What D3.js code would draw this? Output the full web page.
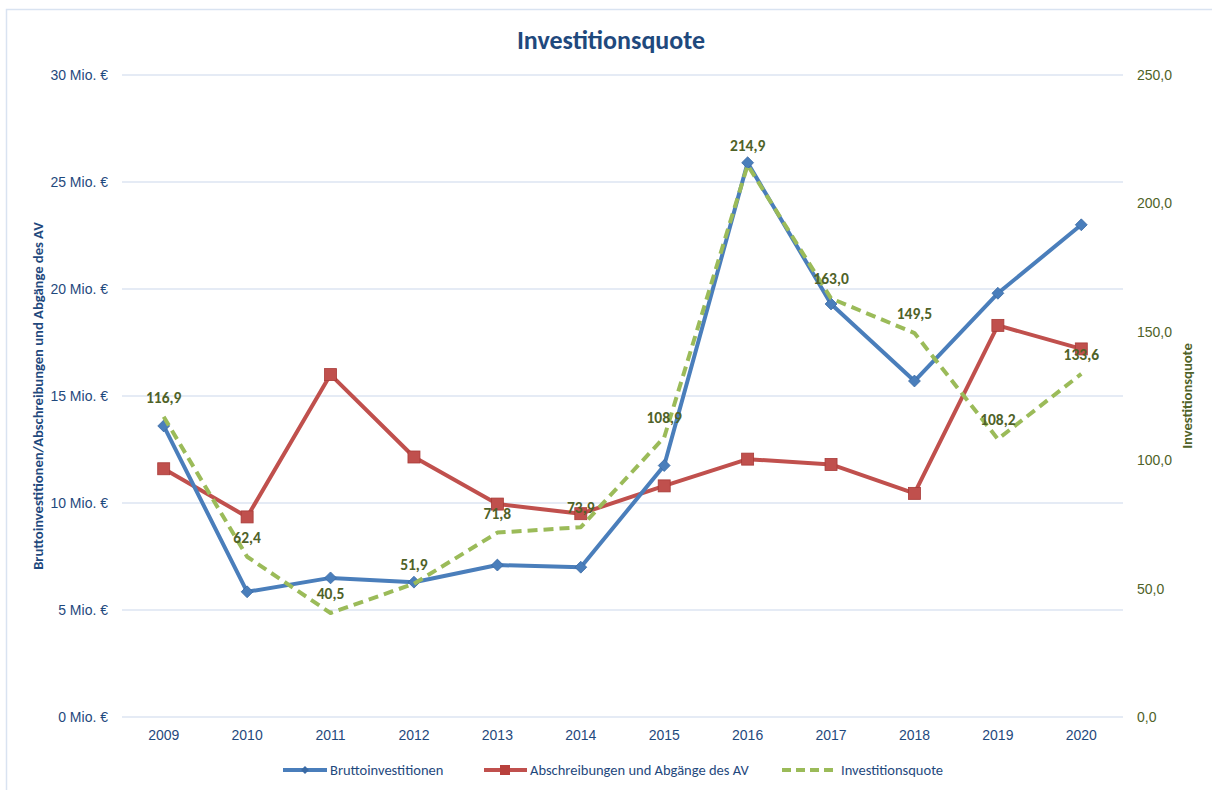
<!DOCTYPE html>
<html>
<head>
<meta charset="utf-8">
<script src="https://cdn.jsdelivr.net/npm/d3@7"></script>
<style>
  body { margin: 0; background: #fff; }
  svg { font-family: Carlito, Lato, "Open Sans", sans-serif; }
</style>
</head>
<body>
<svg id="chart" width="1212" height="790"></svg>
<script>
const years = ['2009', '2010', '2011', '2012', '2013', '2014', '2015', '2016', '2017', '2018', '2019', '2020']
const brutto = [13.6, 5.85, 6.5, 6.3, 7.1, 7.0, 11.75, 25.9, 19.3, 15.7, 19.8, 23.0]
const abschreibungen = [11.6, 9.35, 16.0, 12.15, 9.95, 9.5, 10.8, 12.05, 11.8, 10.45, 18.3, 17.2]
const quote = [116.9, 62.4, 40.5, 51.9, 71.8, 73.9, 108.9, 214.9, 163.0, 149.5, 108.2, 133.6]
const leftTicks = [0, 5, 10, 15, 20, 25, 30]
const rightTicks = [0, 50, 100, 150, 200, 250]

const svg = d3.select('#chart')
const margin = { left: 122, right: 89, top: 75, bottom: 73 }
const W = 1212, H = 790

const blue = '#4a7ebb', red = '#c0504d', green = '#9bbb59'
const darkBlue = '#1f497d', olive = '#4f6228'

// chart frame
svg.append('rect')
  .attr('x', 6.5).attr('y', 9.5)
  .attr('width', 1220).attr('height', 800)
  .attr('fill', 'none').attr('stroke', '#d9e3f1').attr('stroke-width', 1.5)

let xScale = d3.scaleBand().domain(years).range([margin.left, W - margin.right])
let yLeft = d3.scaleLinear().domain([0, 30]).range([H - margin.bottom, margin.top])
let yRight = d3.scaleLinear().domain([0, 250]).range([H - margin.bottom, margin.top])
const cx = d => xScale(d) + xScale.bandwidth() / 2

// gridlines
svg.append('g')
  .selectAll('line').data(leftTicks).enter()
  .append('line')
  .attr('x1', margin.left).attr('x2', W - margin.right)
  .attr('y1', d => yLeft(d)).attr('y2', d => yLeft(d))
  .attr('stroke', '#dce5f2').attr('stroke-width', 1.3)

// left axis
let leftAxis = d3.axisLeft(yLeft).tickValues(leftTicks)
  .tickFormat(d => d + ' Mio. €').tickSize(0).tickPadding(14)
svg.append('g').attr('transform', `translate(${margin.left}, 0)`).call(leftAxis)
  .call(g => g.select('.domain').remove())
  .selectAll('text').style('font-size', '14px').attr('fill', darkBlue)

// right axis
let rightAxis = d3.axisRight(yRight).tickValues(rightTicks)
  .tickFormat(d => d3.format('.1f')(d).replace('.', ',')).tickSize(0).tickPadding(14)
svg.append('g').attr('transform', `translate(${W - margin.right}, 0)`).call(rightAxis)
  .call(g => g.select('.domain').remove())
  .selectAll('text').style('font-size', '14px').attr('fill', olive)

// x axis
let xAxis = d3.axisBottom(xScale).tickSize(0).tickPadding(13)
svg.append('g').attr('transform', `translate(0, ${H - margin.bottom})`).call(xAxis)
  .call(g => g.select('.domain').remove())
  .selectAll('text').style('font-size', '14px').attr('fill', darkBlue)

// title
svg.append('text').attr('x', 611).attr('y', 49).attr('text-anchor', 'middle')
  .style('font-size', '26px').style('font-weight', 'bold').attr('fill', darkBlue)
  .text('Investitionsquote')

// axis titles
svg.append('text').attr('transform', `translate(43, ${(yLeft(0) + yLeft(30)) / 2}) rotate(-90)`)
  .attr('text-anchor', 'middle').style('font-size', '14.6px').style('font-weight', 'bold')
  .attr('fill', darkBlue).text('Bruttoinvestitionen/Abschreibungen und Abgänge des AV')
svg.append('text').attr('transform', `translate(1192, ${(yLeft(0) + yLeft(30)) / 2}) rotate(-90)`)
  .attr('text-anchor', 'middle').style('font-size', '14.6px').style('font-weight', 'bold')
  .attr('fill', olive).text('Investitionsquote')

// lines
let lineLeft = d3.line().x((d, i) => cx(years[i])).y(d => yLeft(d))
let lineRight = d3.line().x((d, i) => cx(years[i])).y(d => yRight(d))

svg.append('path').datum(abschreibungen).attr('d', lineLeft)
  .attr('fill', 'none').attr('stroke', red).attr('stroke-width', 4).attr('stroke-linejoin', 'round')
svg.append('path').datum(brutto).attr('d', lineLeft)
  .attr('fill', 'none').attr('stroke', blue).attr('stroke-width', 4).attr('stroke-linejoin', 'round')

// markers
svg.append('g').selectAll('rect').data(abschreibungen).enter()
  .append('rect')
  .attr('x', (d, i) => cx(years[i]) - 6).attr('y', d => yLeft(d) - 6)
  .attr('width', 12).attr('height', 12)
  .attr('fill', red).attr('stroke', '#a83a37').attr('stroke-width', 0.8)
svg.append('g').selectAll('path').data(brutto).enter()
  .append('path')
  .attr('d', d3.symbol().type(d3.symbolDiamond2).size(90))
  .attr('transform', (d, i) => `translate(${cx(years[i])}, ${yLeft(d)})`)
  .attr('fill', blue).attr('stroke', '#3a6aa5').attr('stroke-width', 0.8)

svg.append('path').datum(quote).attr('d', lineRight)
  .attr('fill', 'none').attr('stroke', green).attr('stroke-width', 4)
  .attr('stroke-dasharray', '10,6').attr('stroke-linejoin', 'round')

// data labels
svg.append('g').selectAll('text').data(quote).enter()
  .append('text')
  .attr('x', (d, i) => cx(years[i])).attr('y', d => yRight(d) - 14)
  .attr('text-anchor', 'middle')
  .style('font-size', '15.5px').style('font-weight', 'bold').attr('fill', olive)
  .text(d => d3.format('.1f')(d).replace('.', ','))

// legend
const legendY = 770
const lg = svg.append('g')
lg.append('line').attr('x1', 283).attr('x2', 327).attr('y1', legendY).attr('y2', legendY)
  .attr('stroke', blue).attr('stroke-width', 4)
lg.append('path').attr('d', d3.symbol().type(d3.symbolDiamond2).size(40))
  .attr('transform', `translate(305, ${legendY})`).attr('fill', '#3a6aa5')
lg.append('text').attr('x', 330).attr('y', legendY + 5).style('font-size', '14.5px')
  .attr('fill', darkBlue).text('Bruttoinvestitionen')

lg.append('line').attr('x1', 484).attr('x2', 527).attr('y1', legendY).attr('y2', legendY)
  .attr('stroke', red).attr('stroke-width', 4)
lg.append('rect').attr('x', 500).attr('y', legendY - 5).attr('width', 10).attr('height', 10)
  .attr('fill', '#b8403c')
lg.append('text').attr('x', 530).attr('y', legendY + 5).style('font-size', '14.5px')
  .attr('fill', darkBlue).text('Abschreibungen und Abgänge des AV')

lg.append('line').attr('x1', 782).attr('x2', 838).attr('y1', legendY).attr('y2', legendY)
  .attr('stroke', green).attr('stroke-width', 4).attr('stroke-dasharray', '9,5')
lg.append('text').attr('x', 841).attr('y', legendY + 5).style('font-size', '14.5px')
  .attr('fill', darkBlue).text('Investitionsquote')
</script>
</body>
</html>
